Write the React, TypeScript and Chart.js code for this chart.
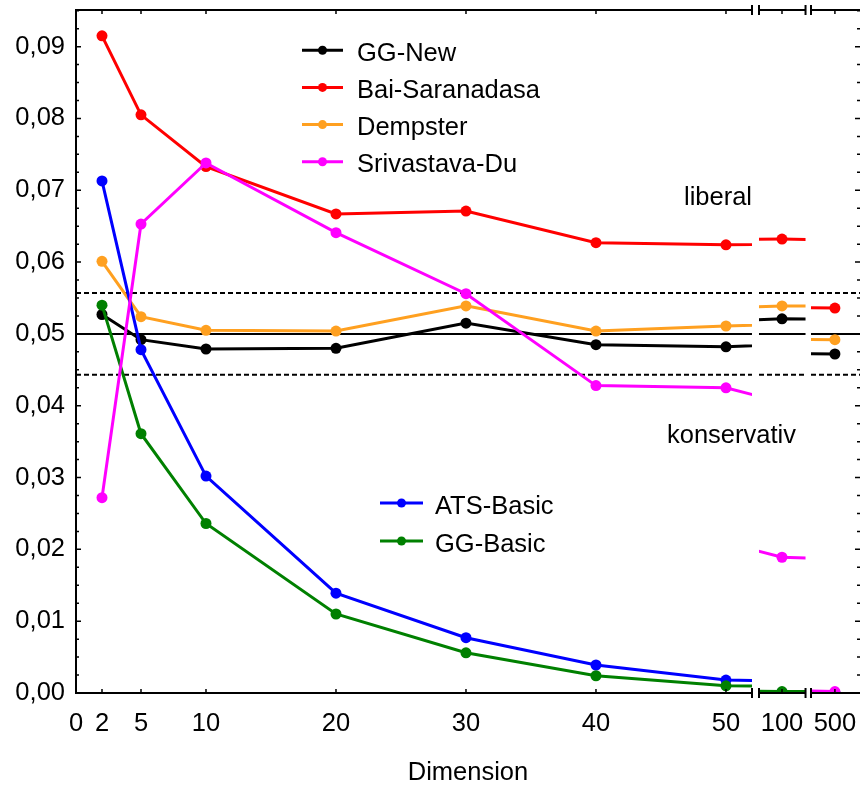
import React, { useEffect, useRef } from 'react';
import { Chart, registerables } from 'chart.js';

Chart.register(...registerables);

// ---------------- data ----------------
const DIMENSIONS = [2, 5, 10, 20, 30, 40, 50, 100, 500];

const GG_NEW = [0.0527, 0.0492, 0.0479, 0.0480, 0.0515, 0.0485, 0.0482, 0.0521, 0.0472];
const BAI_SARANADASA = [0.0915, 0.0805, 0.0733, 0.0667, 0.0671, 0.0627, 0.0624, 0.0632, 0.0536];
const DEMPSTER = [0.0601, 0.0524, 0.0505, 0.0504, 0.0539, 0.0504, 0.0511, 0.0539, 0.0492];
const SRIVASTAVA_DU = [0.0272, 0.0653, 0.0738, 0.0641, 0.0556, 0.0428, 0.0425, 0.0189, 0.0002];
const ATS_BASIC = [0.0713, 0.0478, 0.0302, 0.0139, 0.0077, 0.0039, 0.0018, 0.0001, 0.0];
const GG_BASIC = [0.0540, 0.0361, 0.0236, 0.0110, 0.0056, 0.0024, 0.0010, 0.0002, 0.0];

const SERIES_NAMES = ['GG-New', 'Bai-Saranadasa', 'Dempster', 'Srivastava-Du', 'ATS-Basic', 'GG-Basic'];
const SERIES_VALUES = [GG_NEW, BAI_SARANADASA, DEMPSTER, SRIVASTAVA_DU, ATS_BASIC, GG_BASIC];

const Y_TICKS = [0, 0.01, 0.02, 0.03, 0.04, 0.05, 0.06, 0.07, 0.08, 0.09];
const X_TICK_VALUES = [0, 2, 5, 10, 20, 30, 40, 50, 100, 500];
const X_TICK_LABELS = ['0', '2', '5', '10', '20', '30', '40', '50', '100', '500'];

const NOMINAL_LEVEL = 0.05;
const LOWER_BOUND = 0.0443;
const UPPER_BOUND = 0.0557;

const LEGEND_TOP = [0, 1, 2, 3];
const LEGEND_BOTTOM = [4, 5];
const LABEL_LIBERAL = 'liberal';
const LABEL_KONSERVATIV = 'konservativ';
const X_TITLE = 'Dimension';

// ---------------- styles / layout ----------------
const SERIES_COLORS = ['#000000', '#ff0000', '#ffa020', '#ff00ff', '#0000ff', '#008000'];
const DRAW_ORDER = [3, 5, 4, 0, 2, 1];
const FONT = "'Liberation Sans', Arial, Helvetica, sans-serif";
const FS = 25.5;

// broken x axis: each piece has its own scale
const X_RANGES: Record<string, [number, number]> = {
  x: [0, 60.31],
  x2: [45.69, 106.0],
  x3: [441.62, 501.93],
};
const SEGMENTS = [
  { axis: 'x', from: 0, to: 52 },
  { axis: 'x2', from: 98.23, to: 101.81 },
  { axis: 'x3', from: 498.16, to: 501.93 },
];
const axisFor = (v: number) => (v <= 52 ? 'x' : v < 200 ? 'x2' : 'x3');
const toMain = (v: number) => {
  const [a, b] = X_RANGES[axisFor(v)];
  const [m0, m1] = X_RANGES.x;
  return m0 + ((v - a) * (m1 - m0)) / (b - a);
};

const segPixels = (chart: any) =>
  SEGMENTS.map((s) => {
    const sc = chart.scales[s.axis];
    return [sc.getPixelForValue(s.from), sc.getPixelForValue(s.to)];
  });

const brokenPlugin = {
  id: 'brokenAxis',
  beforeDatasetsDraw(chart: any) {
    const { ctx, chartArea } = chart;
    const y = chart.scales.y;
    const segs = segPixels(chart);
    segs[0][0] = chartArea.left;
    ctx.save();
    const lines = [
      { v: NOMINAL_LEVEL, dash: [] as number[] },
      { v: UPPER_BOUND, dash: [5, 3] },
      { v: LOWER_BOUND, dash: [5, 3] },
    ];
    lines.forEach((l) => {
      const py = y.getPixelForValue(l.v);
      ctx.strokeStyle = '#000';
      ctx.lineWidth = 2;
      ctx.setLineDash(l.dash);
      segs.forEach(([a, b]) => {
        ctx.beginPath();
        ctx.moveTo(a, py);
        ctx.lineTo(b, py);
        ctx.stroke();
      });
    });
    ctx.restore();
  },
  beforeDatasetDraw(chart: any, args: any) {
    const { ctx, chartArea } = chart;
    const ds = chart.data.datasets[args.index];
    const segs = segPixels(chart);
    let [a, b] = segs[ds.segmentIndex];
    if (ds.segmentIndex === 0) a = chartArea.left;
    ctx.save();
    ctx.beginPath();
    ctx.rect(a, chartArea.top, b - a, chartArea.bottom - chartArea.top);
    ctx.clip();
  },
  afterDatasetDraw(chart: any) {
    chart.ctx.restore();
  },
  afterDraw(chart: any) {
    const { ctx, chartArea } = chart;
    const y = chart.scales.y;
    const segs = segPixels(chart);
    segs[0][0] = chartArea.left;
    const top = chartArea.top;
    const bottom = chartArea.bottom;
    const right = chartArea.right;
    const left = chartArea.left;
    ctx.save();
    ctx.strokeStyle = '#000';
    ctx.lineWidth = 2;
    ctx.setLineDash([]);
    [top, bottom].forEach((py) => {
      segs.forEach(([a, b]) => {
        ctx.beginPath();
        ctx.moveTo(a, py);
        ctx.lineTo(b, py);
        ctx.stroke();
      });
      const marks = [segs[0][1], segs[1][0], segs[1][1], segs[2][0]];
      marks.forEach((mx) => {
        ctx.beginPath();
        ctx.moveTo(mx, py - 5);
        ctx.lineTo(mx, py + 5);
        ctx.stroke();
      });
    });
    ctx.lineWidth = 1.5;
    X_TICK_VALUES.forEach((v) => {
      if (v === 0) return;
      const px = chart.scales[axisFor(v)].getPixelForValue(v);
      ctx.beginPath();
      ctx.moveTo(px, bottom);
      ctx.lineTo(px, bottom - 4);
      ctx.moveTo(px, top);
      ctx.lineTo(px, top + 4);
      ctx.stroke();
    });
    for (let k = 0; k <= 38; k++) {
      const v = k * 0.0025;
      if (v > y.max) break;
      const py = y.getPixelForValue(v);
      const len = k % 4 === 0 ? 5 : 3;
      ctx.beginPath();
      ctx.moveTo(left, py);
      ctx.lineTo(left + len, py);
      ctx.moveTo(right, py);
      ctx.lineTo(right - len, py);
      ctx.stroke();
    }
    ctx.font = `${FS}px ${FONT}`;
    ctx.textAlign = 'left';
    ctx.textBaseline = 'alphabetic';
    const entry = (s: number, x1: number, x2: number, tx: number, ly: number) => {
      ctx.strokeStyle = SERIES_COLORS[s];
      ctx.fillStyle = SERIES_COLORS[s];
      ctx.lineWidth = 3;
      ctx.beginPath();
      ctx.moveTo(x1, ly);
      ctx.lineTo(x2, ly);
      ctx.stroke();
      ctx.beginPath();
      ctx.arc((x1 + x2) / 2, ly, 4.5, 0, Math.PI * 2);
      ctx.fill();
      ctx.fillStyle = '#000';
      ctx.fillText(SERIES_NAMES[s], tx, ly + 10.5);
    };
    LEGEND_TOP.forEach((s, i) => entry(s, 302, 343, 357, 50.2 + i * 37.2));
    LEGEND_BOTTOM.forEach((s, i) => entry(s, 380, 423, 435, 503 + i * 38));
    ctx.fillStyle = '#000';
    ctx.fillText(LABEL_LIBERAL, 684, 205);
    ctx.fillText(LABEL_KONSERVATIV, 667, 443);
    ctx.restore();
  },
};

export default function App() {
  const ref = useRef<HTMLCanvasElement | null>(null);

  useEffect(() => {
    if (!ref.current) return;
    const datasets: any[] = [];
    SERIES_NAMES.forEach((name, s) => {
      SEGMENTS.forEach((seg, k) => {
        datasets.push({
          label: name,
          data: DIMENSIONS.map((d, i) => ({ x: d, y: SERIES_VALUES[s][i] })),
          xAxisID: seg.axis,
          yAxisID: 'y',
          borderColor: SERIES_COLORS[s],
          backgroundColor: SERIES_COLORS[s],
          borderWidth: 3,
          pointRadius: 5.5,
          pointBorderWidth: 0,
          pointHoverRadius: 5.5,
          tension: 0,
          fill: false,
          order: DRAW_ORDER[s],
          segmentIndex: k,
        });
      });
    });

    const chart = new Chart(ref.current, {
      type: 'line',
      data: { datasets },
      plugins: [brokenPlugin],
      options: {
        animation: false,
        responsive: false,
        events: [],
        layout: { autoPadding: false, padding: { top: 10, left: 0, right: 0, bottom: 0 } },
        plugins: { legend: { display: false }, tooltip: { enabled: false }, title: { display: false } },
        scales: {
          x: {
            type: 'linear',
            position: 'bottom',
            min: X_RANGES.x[0],
            max: X_RANGES.x[1],
            grid: { display: false, drawTicks: false },
            border: { display: false },
            ticks: {
              color: '#000',
              font: { family: FONT, size: FS },
              padding: 16,
              maxRotation: 0,
              autoSkip: false,
              callback: (_v: any, i: number) => X_TICK_LABELS[i],
            },
            afterBuildTicks: (s: any) => {
              s.ticks = X_TICK_VALUES.map((v) => ({ value: toMain(v) }));
            },
            title: {
              display: true,
              text: X_TITLE,
              color: '#000',
              font: { family: FONT, size: FS, lineHeight: 1 },
              padding: 0,
            },
            afterFit: (s: any) => {
              s.height = 93;
              s.paddingLeft = 0;
              s.paddingRight = 0;
            },
          },
          x2: {
            type: 'linear',
            axis: 'x',
            position: 'bottom',
            display: false,
            min: X_RANGES.x2[0],
            max: X_RANGES.x2[1],
          },
          x3: {
            type: 'linear',
            axis: 'x',
            position: 'bottom',
            display: false,
            min: X_RANGES.x3[0],
            max: X_RANGES.x3[1],
          },
          y: {
            type: 'linear',
            position: 'left',
            min: 0,
            max: 0.0951,
            grid: { display: false, drawTicks: false },
            border: { display: true, color: '#000', width: 2 },
            ticks: {
              color: '#000',
              font: { family: FONT, size: FS },
              padding: 11,
              callback: (v: any) => Number(v).toFixed(2).replace('.', ','),
            },
            afterBuildTicks: (s: any) => {
              s.ticks = Y_TICKS.map((v) => ({ value: v }));
            },
            afterFit: (s: any) => {
              s.width = 76;
              s.paddingTop = 0;
              s.paddingBottom = 0;
            },
          },
        },
      } as any,
    });
    return () => chart.destroy();
  }, []);

  return (
    <div style={{ position: 'absolute', left: 0, top: 0, width: 860, height: 786, background: '#fff' }}>
      <canvas ref={ref} width={860} height={786} style={{ display: 'block' }} />
    </div>
  );
}
